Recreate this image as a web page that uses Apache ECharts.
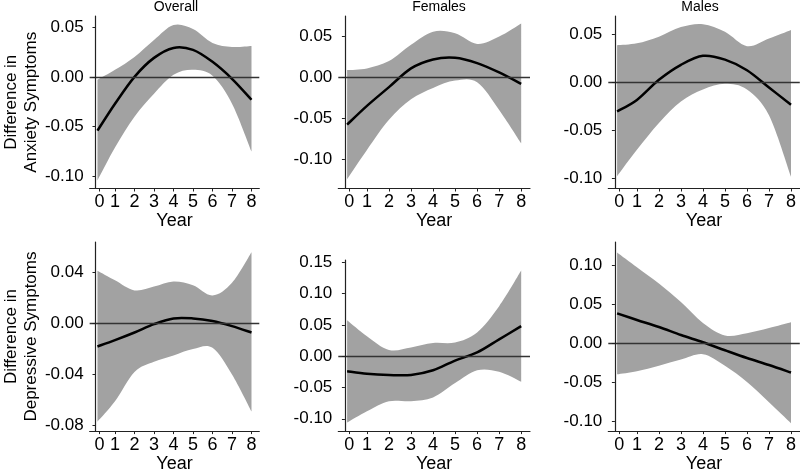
<!DOCTYPE html>
<html>
<head>
<meta charset="utf-8">
<script src="https://cdn.jsdelivr.net/npm/echarts@6/dist/echarts.min.js"></script>
<style>
  html, body { margin: 0; padding: 0; background: #fff; }
  #chart { width: 800px; height: 474px; }
</style>
</head>
<body>
<div id="chart"></div>
<script>
// ---- data ----
const years = [0.1, 1, 2, 3, 4, 5, 6, 7, 8];
const xTickPositions = [0.2, 1, 2, 3, 4, 5, 6, 7, 8];
const xTickLabels = ['0', '1', '2', '3', '4', '5', '6', '7', '8'];
const panelTitles = ['Overall', 'Females', 'Males'];
const rowTitles = ['Difference in\nAnxiety Symptoms', 'Difference in\nDepressive Symptoms'];
const xAxisTitle = 'Year';

// Anxiety – Overall
const anxOverallEst   = [-0.054, -0.027, 0.000, 0.019, 0.029, 0.027, 0.015, -0.002, -0.023];
const anxOverallUpper = [-0.003, 0.007, 0.020, 0.037, 0.052, 0.048, 0.034, 0.030, 0.031];
const anxOverallLower = [-0.104, -0.071, -0.040, -0.017, 0.002, 0.007, 0.001, -0.027, -0.075];
// Anxiety – Females
const anxFemEst   = [-0.058, -0.035, -0.012, 0.011, 0.022, 0.024, 0.0175, 0.006, -0.008];
const anxFemUpper = [0.009, 0.011, 0.020, 0.040, 0.056, 0.054, 0.041, 0.050, 0.066];
const anxFemLower = [-0.125, -0.089, -0.052, -0.027, -0.013, -0.004, -0.006, -0.040, -0.081];
// Anxiety – Males
const anxMaleEst   = [-0.030, -0.018, 0.003, 0.0186, 0.028, 0.024, 0.013, -0.005, -0.023];
const anxMaleUpper = [0.039, 0.041, 0.048, 0.058, 0.061, 0.053, 0.038, 0.046, 0.055];
const anxMaleLower = [-0.0975, -0.070, -0.042, -0.0195, -0.007, -0.001, -0.007, -0.034, -0.098];
// Depressive – Overall
const depOverallEst   = [-0.018, -0.013, -0.007, -0.0005, 0.004, 0.004, 0.002, -0.002, -0.007];
const depOverallUpper = [0.0415, 0.034, 0.026, 0.029, 0.033, 0.030, 0.022, 0.032, 0.056];
const depOverallLower = [-0.077, -0.061, -0.038, -0.030, -0.025, -0.020, -0.019, -0.040, -0.069];
// Depressive – Females
const depFemEst   = [-0.024, -0.028, -0.030, -0.030, -0.0225, -0.007, 0.006, 0.027, 0.048];
const depFemUpper = [0.0575, 0.032, 0.010, 0.014, 0.021, 0.022, 0.038, 0.080, 0.137];
const depFemLower = [-0.106, -0.088, -0.072, -0.072, -0.066, -0.043, -0.0225, -0.025, -0.041];
// Depressive – Males
const depMaleEst   = [0.0385, 0.030, 0.021, 0.0106, 0.0013, -0.009, -0.019, -0.028, -0.0377];
const depMaleUpper = [0.117, 0.098, 0.077, 0.053, 0.026, 0.010, 0.013, 0.0195, 0.027];
const depMaleLower = [-0.040, -0.036, -0.029, -0.021, -0.014, -0.029, -0.050, -0.076, -0.103];

// y tick labels
const anxTicks = [-0.10, -0.05, 0.00, 0.05];
const depOverallTicks = [-0.08, -0.04, 0.00, 0.04];
const depFemTicks = [-0.10, -0.05, 0.00, 0.05, 0.10, 0.15];
const depMaleTicks = [-0.10, -0.05, 0.00, 0.05, 0.10];

// ---- layout ----
const FONT = '"Liberation Sans", Arial, sans-serif';
const panels = [
  { est: anxOverallEst, up: anxOverallUpper, lo: anxOverallLower, ticks: anxTicks, min: -0.112, max: 0.061,
    grid: { left: 88.7, top: 16, width: 170.6, height: 172.5 }, yName: rowTitles[0] },
  { est: anxFemEst, up: anxFemUpper, lo: anxFemLower, ticks: anxTicks, min: -0.1364, max: 0.0753,
    grid: { left: 338.3, top: 16, width: 191.7, height: 172.5 } },
  { est: anxMaleEst, up: anxMaleUpper, lo: anxMaleLower, ticks: anxTicks, min: -0.1103, max: 0.0695,
    grid: { left: 608.3, top: 16, width: 191.5, height: 172.5 } },
  { est: depOverallEst, up: depOverallUpper, lo: depOverallLower, ticks: depOverallTicks, min: -0.0844, max: 0.064,
    grid: { left: 88.7, top: 242, width: 170.6, height: 191.7 }, yName: rowTitles[1] },
  { est: depFemEst, up: depFemUpper, lo: depFemLower, ticks: depFemTicks, min: -0.1197, max: 0.1538,
    grid: { left: 338.3, top: 260, width: 191.7, height: 174 } },
  { est: depMaleEst, up: depMaleUpper, lo: depMaleLower, ticks: depMaleTicks, min: -0.1131, max: 0.1304,
    grid: { left: 608.3, top: 242, width: 191.5, height: 191.7 } }
];
const titleCenters = [176, 439, 700];

// Catmull-Rom smoothed path segments through pixel points
function smoothSegs(pts) {
  let d = '';
  const n = pts.length;
  for (let i = 0; i < n - 1; i++) {
    const p0 = pts[Math.max(i - 1, 0)], p1 = pts[i], p2 = pts[i + 1], p3 = pts[Math.min(i + 2, n - 1)];
    const t = 1 / 6;
    const c1 = [p1[0] + (p2[0] - p0[0]) * t, p1[1] + (p2[1] - p0[1]) * t];
    const c2 = [p2[0] - (p3[0] - p1[0]) * t, p2[1] - (p3[1] - p1[1]) * t];
    d += ' C' + c1[0] + ',' + c1[1] + ' ' + c2[0] + ',' + c2[1] + ' ' + p2[0] + ',' + p2[1];
  }
  return d;
}

const grids = [], xAxes = [], yAxes = [], series = [];
panels.forEach((p, i) => {
  grids.push(Object.assign({ containLabel: false }, p.grid));
  xAxes.push({
    type: 'value', gridIndex: i, min: -0.3, max: 8.4, z: 5,
    name: xAxisTitle, nameLocation: 'middle', nameGap: 22,
    nameTextStyle: { fontFamily: FONT, fontSize: 18, color: '#000' },
    axisLine: { show: true, onZero: false, lineStyle: { color: '#222', width: 1.2 } },
    axisTick: { show: true, length: 3, customValues: xTickPositions, lineStyle: { color: '#222', width: 1 } },
    axisLabel: {
      customValues: xTickPositions, margin: 5, fontFamily: FONT, fontSize: 18, color: '#000',
      formatter: v => { const k = xTickPositions.indexOf(v); return k >= 0 ? xTickLabels[k] : ''; }
    },
    splitLine: { show: false }
  });
  yAxes.push({
    type: 'value', gridIndex: i, min: p.min, max: p.max, z: 5,
    name: p.yName || '', nameLocation: 'middle', nameGap: 44, nameRotate: 90,
    nameTextStyle: { fontFamily: FONT, fontSize: 17, lineHeight: 20, color: '#000' },
    axisLine: { show: true, lineStyle: { color: '#222', width: 1.2 } },
    axisTick: { show: true, length: 3, customValues: p.ticks, lineStyle: { color: '#222', width: 1 } },
    axisLabel: {
      customValues: p.ticks, margin: 6, fontFamily: FONT, fontSize: 17, color: '#000',
      formatter: v => v.toFixed(2)
    },
    splitLine: { show: false }
  });
  // confidence band
  const bandData = years.map((x, k) => [x, p.lo[k], p.up[k]]);
  series.push({
    type: 'custom', xAxisIndex: i, yAxisIndex: i, silent: true, z: 1, clip: true,
    data: bandData,
    encode: { x: 0, y: [1, 2] },
    renderItem: (params, api) => {
      if (params.dataIndex !== 0) return null;
      const upPts = bandData.map(r => api.coord([r[0], r[2]]));
      const loPts = bandData.map(r => api.coord([r[0], r[1]])).reverse();
      let d = 'M' + upPts[0][0] + ',' + upPts[0][1] + smoothSegs(upPts);
      d += ' L' + loPts[0][0] + ',' + loPts[0][1] + smoothSegs(loPts) + ' Z';
      return { type: 'path', shape: { pathData: d }, style: { fill: '#a2a2a2', stroke: null } };
    }
  });
  // zero reference line (drawn above band)
  series.push({
    type: 'line', xAxisIndex: i, yAxisIndex: i, data: [], silent: true, z: 2,
    markLine: {
      silent: true, symbol: 'none', label: { show: false },
      lineStyle: { color: '#333', width: 1.3, type: 'solid' },
      data: [{ yAxis: 0 }]
    }
  });
  // estimate curve
  const estData = years.map((x, k) => [x, p.est[k]]);
  series.push({
    type: 'custom', xAxisIndex: i, yAxisIndex: i, silent: true, z: 3, clip: true,
    data: estData,
    encode: { x: 0, y: 1 },
    renderItem: (params, api) => {
      if (params.dataIndex !== 0) return null;
      const pts = estData.map(r => api.coord(r));
      const d = 'M' + pts[0][0] + ',' + pts[0][1] + smoothSegs(pts);
      return { type: 'path', shape: { pathData: d },
               style: { fill: null, stroke: '#000', lineWidth: 2.5, lineCap: 'butt', lineJoin: 'round' } };
    }
  });
});

const titles = panelTitles.map((t, i) => ({
  text: t, left: titleCenters[i], top: 0, textAlign: 'center', padding: 0,
  textStyle: { fontFamily: FONT, fontSize: 14, fontWeight: 'normal', color: '#000' }
}));

const chart = echarts.init(document.getElementById('chart'), null, { renderer: 'canvas' });
chart.setOption({
  animation: false,
  backgroundColor: '#fff',
  title: titles,
  grid: grids,
  xAxis: xAxes,
  yAxis: yAxes,
  series: series
});
</script>
</body>
</html>
